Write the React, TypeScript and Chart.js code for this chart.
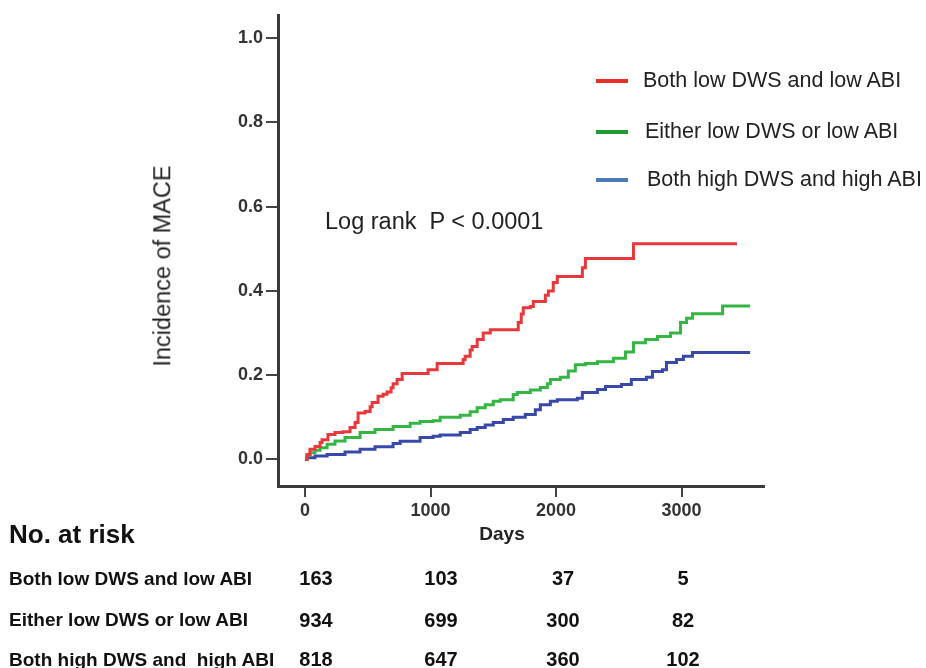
import React, { useEffect, useRef } from "react";
import { Chart, registerables } from "chart.js";

Chart.register(...registerables);

// ---------- data ----------
const xTickValues = [0, 1000, 2000, 3000];
const yTickValues = [0, 0.2, 0.4, 0.6, 0.8, 1.0];

const seriesNames = [
  "Both low DWS and low ABI",
  "Either low DWS or low ABI",
  "Both high DWS and high ABI",
];

const lowDays = [0, 16, 40, 80, 120, 136, 183, 239, 303, 359, 399, 423, 479, 519, 535, 582, 622, 654, 686, 702, 734, 774, 981, 1053, 1260, 1276, 1316, 1332, 1372, 1420, 1476, 1699, 1723, 1739, 1795, 1819, 1915, 1939, 1978, 2010, 2210, 2234, 2617, 3442];
const lowIncidence = [0, 0.012, 0.024, 0.031, 0.04, 0.047, 0.059, 0.064, 0.066, 0.076, 0.088, 0.11, 0.114, 0.125, 0.135, 0.15, 0.155, 0.16, 0.17, 0.18, 0.19, 0.204, 0.213, 0.228, 0.237, 0.245, 0.26, 0.268, 0.285, 0.3, 0.308, 0.325, 0.345, 0.36, 0.363, 0.375, 0.39, 0.4, 0.42, 0.434, 0.455, 0.477, 0.512, 0.512];

const eitherDays = [0, 16, 40, 80, 120, 176, 239, 319, 439, 558, 702, 838, 917, 1021, 1077, 1237, 1316, 1372, 1436, 1500, 1556, 1659, 1691, 1795, 1875, 1931, 1955, 2034, 2098, 2154, 2234, 2330, 2457, 2553, 2617, 2712, 2808, 2912, 2992, 3040, 3087, 3327, 3546];
const eitherIncidence = [0, 0.01, 0.016, 0.022, 0.028, 0.036, 0.044, 0.052, 0.064, 0.071, 0.078, 0.086, 0.09, 0.092, 0.1, 0.105, 0.113, 0.123, 0.13, 0.138, 0.142, 0.154, 0.159, 0.165, 0.171, 0.18, 0.19, 0.195, 0.21, 0.225, 0.228, 0.232, 0.24, 0.255, 0.277, 0.285, 0.292, 0.3, 0.325, 0.335, 0.346, 0.364, 0.364];

const highDays = [0, 16, 80, 176, 319, 439, 558, 702, 758, 917, 1021, 1077, 1237, 1316, 1372, 1436, 1500, 1580, 1659, 1755, 1835, 1875, 1955, 2010, 2170, 2210, 2330, 2394, 2521, 2600, 2720, 2768, 2848, 2880, 2960, 3015, 3087, 3546];
const highIncidence = [0, 0.004, 0.008, 0.012, 0.018, 0.024, 0.03, 0.038, 0.043, 0.052, 0.055, 0.058, 0.064, 0.071, 0.076, 0.082, 0.088, 0.095, 0.1, 0.107, 0.118, 0.13, 0.138, 0.142, 0.145, 0.159, 0.166, 0.173, 0.178, 0.19, 0.195, 0.209, 0.213, 0.23, 0.237, 0.245, 0.254, 0.254];

const riskLabels = [
  "Both low DWS and low ABI",
  "Either low DWS or low ABI",
  "Both high DWS and  high ABI",
];
const riskLow = [163, 103, 37, 5];
const riskEither = [934, 699, 300, 82];
const riskHigh = [818, 647, 360, 102];

// ---------- styles ----------
const FONT = '"Liberation Sans", Arial, Helvetica, sans-serif';
const curveColors = ["#e8383c", "#35b544", "#3949ab"];
const legendColors = ["#e8302a", "#1f9a2e", "#4f79b5"];

const W = 926;
const H = 668;
const AREA = { left: 278, right: 764, top: 15, bottom: 486 };
const riskColX = [316, 441, 563, 683];
const riskRowY = [578, 619.5, 659];
const legendRowY = [81, 131.5, 179.5];
const legendTextX = [643, 645, 647];

function pairs(xs: number[], ys: number[]) {
  return xs.map((x, i) => ({ x, y: ys[i] }));
}

export default function App() {
  const canvasRef = useRef<HTMLCanvasElement | null>(null);

  useEffect(() => {
    const canvas = canvasRef.current;
    if (!canvas) return;
    const tickFont = { family: FONT, size: 18, weight: "bold" as const };
    const chart = new Chart(canvas, {
      type: "line",
      data: {
        datasets: [
          { label: seriesNames[0], data: pairs(lowDays, lowIncidence), borderColor: curveColors[0] },
          { label: seriesNames[1], data: pairs(eitherDays, eitherIncidence), borderColor: curveColors[1] },
          { label: seriesNames[2], data: pairs(highDays, highIncidence), borderColor: curveColors[2] },
        ].map((d) => ({
          ...d,
          borderWidth: 3,
          stepped: "before" as const,
          pointRadius: 0,
          fill: false,
        })),
      },
      options: {
        animation: false,
        responsive: false,
        maintainAspectRatio: false,
        layout: {
          padding: { left: 0, top: AREA.top, right: W - AREA.right, bottom: 0 },
        },
        plugins: {
          legend: { display: false },
          tooltip: { enabled: false },
          title: { display: false },
        },
        scales: {
          x: {
            type: "linear",
            min: -215,
            max: 3657,
            afterBuildTicks: (s: any) => {
              s.ticks = xTickValues.map((v) => ({ value: v }));
            },
            afterFit: (s: any) => {
              s.height = H - AREA.bottom;
            },
            grid: {
              drawOnChartArea: false,
              drawTicks: true,
              tickLength: 11,
              color: "#444",
              lineWidth: 2,
            },
            border: { display: true, color: "#3a3a3a", width: 3 },
            ticks: {
              font: tickFont,
              color: "#333",
              padding: 3,
              maxRotation: 0,
              autoSkip: false,
              callback: (v: any) => String(v),
            },
          },
          y: {
            type: "linear",
            min: -0.063,
            max: 1.055,
            afterBuildTicks: (s: any) => {
              s.ticks = yTickValues.map((v) => ({ value: v }));
            },
            afterFit: (s: any) => {
              s.width = AREA.left;
            },
            grid: {
              drawOnChartArea: false,
              drawTicks: true,
              tickLength: 12,
              color: "#444",
              lineWidth: 2,
            },
            border: { display: true, color: "#3a3a3a", width: 3 },
            ticks: {
              font: tickFont,
              color: "#333",
              padding: 3,
              autoSkip: false,
              callback: (v: any) => Number(v).toFixed(1),
            },
          },
        },
      },
    });
    return () => chart.destroy();
  }, []);

  const abs = (extra: React.CSSProperties): React.CSSProperties => ({
    position: "absolute",
    whiteSpace: "pre",
    lineHeight: 1,
    fontFamily: FONT,
    ...extra,
  });

  const riskRows = [riskLow, riskEither, riskHigh];

  return (
    <div
      style={{
        position: "fixed",
        left: 0,
        top: 0,
        width: W,
        height: H,
        background: "#fff",
        overflow: "hidden",
        fontFamily: FONT,
      }}
    >
      <canvas
        ref={canvasRef}
        width={W}
        height={H}
        style={{ position: "absolute", left: 0, top: 0, width: W, height: H }}
      />

      {/* y axis title */}
      <div
        style={abs({
          left: 163,
          top: 266,
          fontSize: 23.5,
          color: "#222",
          transform: "translate(-50%, -50%) rotate(-90deg)",
        })}
      >
        Incidence of MACE
      </div>

      {/* x axis title */}
      <div
        style={abs({
          left: 502,
          top: 533,
          fontSize: 19,
          fontWeight: "bold",
          color: "#222",
          transform: "translate(-50%, -50%)",
        })}
      >
        Days
      </div>

      {/* annotation */}
      <div style={abs({ left: 325, top: 210, fontSize: 23.5, color: "#222" })}>
        {"Log rank  P < 0.0001"}
      </div>

      {/* legend */}
      {seriesNames.map((name, i) => (
        <React.Fragment key={name}>
          <div
            style={{
              position: "absolute",
              left: 596,
              top: legendRowY[i] - 2,
              width: 32,
              height: 4,
              background: legendColors[i],
            }}
          />
          <div
            style={abs({
              left: legendTextX[i],
              top: legendRowY[i] - 10.75,
              fontSize: 21.5,
              color: "#222",
            })}
          >
            {name}
          </div>
        </React.Fragment>
      ))}

      {/* number at risk */}
      <div style={abs({ left: 9, top: 521, fontSize: 26, fontWeight: "bold", color: "#111" })}>
        No. at risk
      </div>
      {riskLabels.map((label, r) => (
        <React.Fragment key={label}>
          <div
            style={abs({
              left: 9,
              top: riskRowY[r] - 9.5,
              fontSize: 19,
              fontWeight: "bold",
              color: "#111",
            })}
          >
            {label}
          </div>
          {riskRows[r].map((n, c) => (
            <div
              key={c}
              style={abs({
                left: riskColX[c],
                top: riskRowY[r],
                fontSize: 20,
                fontWeight: "bold",
                color: "#111",
                transform: "translate(-50%, -50%)",
              })}
            >
              {String(n)}
            </div>
          ))}
        </React.Fragment>
      ))}
    </div>
  );
}
